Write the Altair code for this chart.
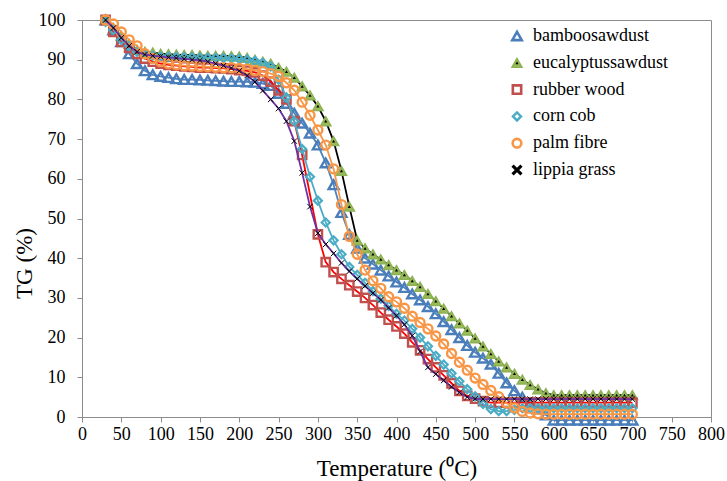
import altair as alt
import pandas as pd

temps = list(range(30, 710, 10))
series = ["bamboosawdust", "eucalyptussawdust", "rubber wood", "corn cob", "palm fibre", "lippia grass"]

bamboo = [100, 97.5, 94.5, 91.5, 89, 87.2, 86.2, 85.8, 85.5, 85.2,
          85, 85, 84.9, 84.8, 84.7, 84.6, 84.5, 84.5, 84.4, 84.3,
          84, 83.5, 81.5, 79, 76.5, 74, 71.5, 68.5, 64, 58.5,
          51.5, 46, 42.5, 40, 38.5, 37, 35.5, 34, 32.6, 31,
          29.5, 27.8, 26, 24, 22, 20, 18, 16.3, 14.8, 13.3,
          11, 8.6, 6.6, 5, 3.5, 2, 0.5, -0.8, -0.8, -0.8,
          -0.8, -0.8, -0.8, -0.8, -0.8, -0.8, -0.8, -0.8]
eucalyptus = [100, 98, 96, 94, 92.5, 92, 91.8, 91.5, 91.4, 91.3,
              91.2, 91.2, 91.1, 91, 91, 91, 90.9, 90.8, 90.5, 90,
              89.5, 89, 88, 87, 85.5, 83.3, 81, 78.3, 74.5, 69.5,
              62, 53, 44.5, 42.5, 41, 39.7, 38.3, 37, 35.8, 34.3,
              32.8, 31, 29.2, 27.3, 25.4, 23.6, 21.8, 19.8, 17.8, 15.9,
              14, 12.5, 10.9, 9.4, 8.1, 7, 6, 5.5, 5.5, 5.5,
              5.5, 5.5, 5.5, 5.5, 5.5, 5.5, 5.5, 5.5]
rubber = [100, 97, 94.5, 93, 91.5, 90.3, 89.5, 89, 88.7, 88.5,
          88.3, 88.2, 88, 88, 87.9, 87.8, 87.6, 87.4, 87.2, 86.8,
          86, 84.5, 82.3, 80, 74.5, 66, None, 46, 39, 36.5,
          34.8, 33.2, 31.6, 30, 28.2, 26.3, 24.5, 22.8, 21, 18.8,
          16.8, 14.6, 12.5, 10.5, 8.5, 6.6, 5.3, 4.6, 4, 3.6,
          3.6, 3.6, 3.6, 3.6, 3.6, 3.6, 3.6, 3.6, 3.6, 3.6,
          3.6, 3.6, 3.6, 3.6, 3.6, 3.6, 3.6, 3.6]
corn = [99.5, 97.5, 95, 93.5, 92, 91.3, 91, 90.8, 90.7, 90.7,
        90.6, 90.6, 90.5, 90.5, 90.5, 90.4, 90.3, 90.2, 90, 89.7,
        89.2, 88.3, 85, 80.5, 74.5, 67.5, 60.5, 54.5, 49, 44.5,
        41, 37.8, 35.8, 33.8, 31.7, 29.8, 28, 26, 24.3, 22.2,
        20, 17.8, 15.4, 13.2, 11, 9, 7, 5.2, 3.3, 2,
        1.5, 1.5, 1.8, 2.2, 2.2, 2.2, 2.2, 2.2, 2.2, 2.2,
        2.2, 2.2, 2.2, 2.2, 2.2, 2.2, 2.2, 2.2]
palm = [100, 99, 97, 95, 93.5, 91.5, 90.3, 89.5, 89, 88.7,
        88.5, 88.4, 88.3, 88.2, 88.1, 88, 88, 87.8, 87.6, 87.3,
        87, 86.5, 85.8, 84.2, 82.3, 79.3, 76, 72.3, 68.5, 62.5,
        53.5, 45.5, 41, 37, 34.3, 32.4, 30.3, 29, 27.4, 25.4,
        23.8, 22.2, 20.4, 18.4, 16, 13.8, 11.8, 9.8, 8.2, 6.7,
        5.1, 3.5, 2.3, 1.4, 1, 0.8, 0.7, 0.7, 0.7, 0.7,
        0.7, 0.7, 0.7, 0.7, 0.7, 0.7, 0.7, 0.7]
lippia = [100, 98, 95.5, 93.5, 92, 91.3, 91, 90.8, 90.6, 90.4,
          90.2, 90, 89.8, 89.5, 89, 88.5, 87.9, 87.2, 86, 84.4,
          82.2, 80, 77.7, 74.5, 69.5, 61.5, 53, 46.3, 43.5, 41.2,
          38.8, 36.7, 34.8, 33, 31.2, 29.5, 27.5, 25.5, 23.3, 20.5,
          16.5, 12.5, 10.8, 9.2, 7.6, 6.2, 5, 4.6, 4.5, 4.5,
          4.5, 4.5, 4.5, 4.5, 4.5, 4.5, 4.5, 4.5, 4.5, 4.5,
          4.5, 4.5, 4.5, 4.5, 4.5, 4.5, 4.5, 4.5]

x_ticks = list(range(0, 801, 50))
y_ticks = list(range(0, 101, 10))

line_colors = ["#4F81BD", "#000000", "#FF0000", "#4BACC6", "#F79646", "#7030A0"]
marker_stroke = ["#4A7EBB", "#8DB255", "#C0504D", "#4BACC6", "#F79646", "#000000"]
marker_fill = ["transparent", "#9BBB59", "transparent", "transparent", "transparent", "transparent"]
shapes = ["triangle-up", "triangle-up", "square", "diamond", "circle", "M-1,-1L1,1M-1,1L1,-1"]
sizes = [100, 105, 70, 65, 80, 30]
widths = [2.4, 1.5, 2.4, 2.2, 2.4, 1.0]
legend_sizes = [90, 100, 70, 65, 75, 80]
legend_widths = [2.6, 1.5, 2.6, 2.4, 2.6, 3.2]

rows = []
for name, vals in zip(series, [bamboo, eucalyptus, rubber, corn, palm, lippia]):
    for t, v in zip(temps, vals):
        if v is not None:
            rows.append({"T": t, "TG": v, "series": name})
df = pd.DataFrame(rows)
legend_df = pd.DataFrame({"series": series, "row": list(range(len(series)))})

FONT = "Liberation Serif"

x_enc = alt.X("T:Q", scale=alt.Scale(domain=[0, 800], nice=False),
              axis=alt.Axis(values=x_ticks, title="Temperature (⁰C)", labelPadding=3,
                            titlePadding=14, labelFlush=False))
y_enc = alt.Y("TG:Q", scale=alt.Scale(domain=[0, 100], nice=False),
              axis=alt.Axis(values=y_ticks, title="TG (%)", labelPadding=12,
                            titleX=-58, titleY=243, titleAlign="center",
                            titleBaseline="middle", titleAngle=-90))

stroke_scale = alt.Scale(domain=series, range=marker_stroke)
fill_scale = alt.Scale(domain=series, range=marker_fill)
shape_scale = alt.Scale(domain=series, range=shapes)

layers = []
for i, name in enumerate(series):
    base = alt.Chart(df).transform_filter(alt.datum.series == name)
    layers.append(base.mark_line(strokeWidth=1.8).encode(
        x=x_enc, y=y_enc,
        color=alt.Color("series:N", scale=alt.Scale(domain=series, range=line_colors), legend=None)))
    layers.append(base.mark_point(strokeWidth=widths[i], opacity=1, size=sizes[i]).encode(
        x=x_enc, y=y_enc,
        stroke=alt.Stroke("series:N", scale=stroke_scale, legend=None),
        fill=alt.Fill("series:N", scale=fill_scale, legend=None),
        shape=alt.Shape("series:N", scale=shape_scale, legend=None)))
    if name == "eucalyptussawdust":
        layers.append(base.mark_point(shape="triangle-up", filled=True, color="black",
                                      size=10, opacity=1).encode(x=x_enc, y=y_enc))
main = alt.layer(*layers)

# legend (drawn as its own small layer)
row_y = alt.Y("row:O", scale=alt.Scale(type="point", domain=list(range(len(series))),
                                      range=[16, 150], padding=0), axis=None)
leg_base = alt.Chart(legend_df)
leg_layers = []
for i, name in enumerate(series):
    leg_layers.append(leg_base.transform_filter(alt.datum.series == name).mark_point(
        opacity=1, strokeWidth=legend_widths[i], size=legend_sizes[i]).encode(
        x=alt.value(435), y=row_y,
        stroke=alt.Stroke("series:N", scale=stroke_scale, legend=None),
        fill=alt.Fill("series:N", scale=fill_scale, legend=None),
        shape=alt.Shape("series:N", scale=shape_scale, legend=None)))
leg_layers.append(leg_base.transform_filter(alt.datum.series == "eucalyptussawdust").mark_point(
    shape="triangle-up", filled=True, color="black", size=10, opacity=1).encode(
    x=alt.value(435), y=row_y))
leg_layers.append(leg_base.mark_text(align="left", baseline="middle", font=FONT,
                                     fontSize=18, color="#000000").encode(
    x=alt.value(451), y=row_y, text="series:N"))
legend = alt.layer(*leg_layers)

chart = alt.layer(main, legend).resolve_scale(y="independent").properties(
    width=629, height=397,
    padding={"left": 82, "top": 20, "right": 16, "bottom": 64},
    autosize=alt.AutoSizeParams(type="none"),
    background="white",
).configure_view(
    stroke="#8C8C8C", strokeWidth=1
).configure_axis(
    grid=False, domainColor="#8C8C8C", tickColor="#8C8C8C", tickSize=5,
    labelFont=FONT, labelFontSize=18, labelColor="#000000",
    titleFont=FONT, titleFontSize=23, titleFontWeight="normal", titleColor="#000000"
)

chart.save("out.html", embed_options={"renderer": "svg", "actions": False})
